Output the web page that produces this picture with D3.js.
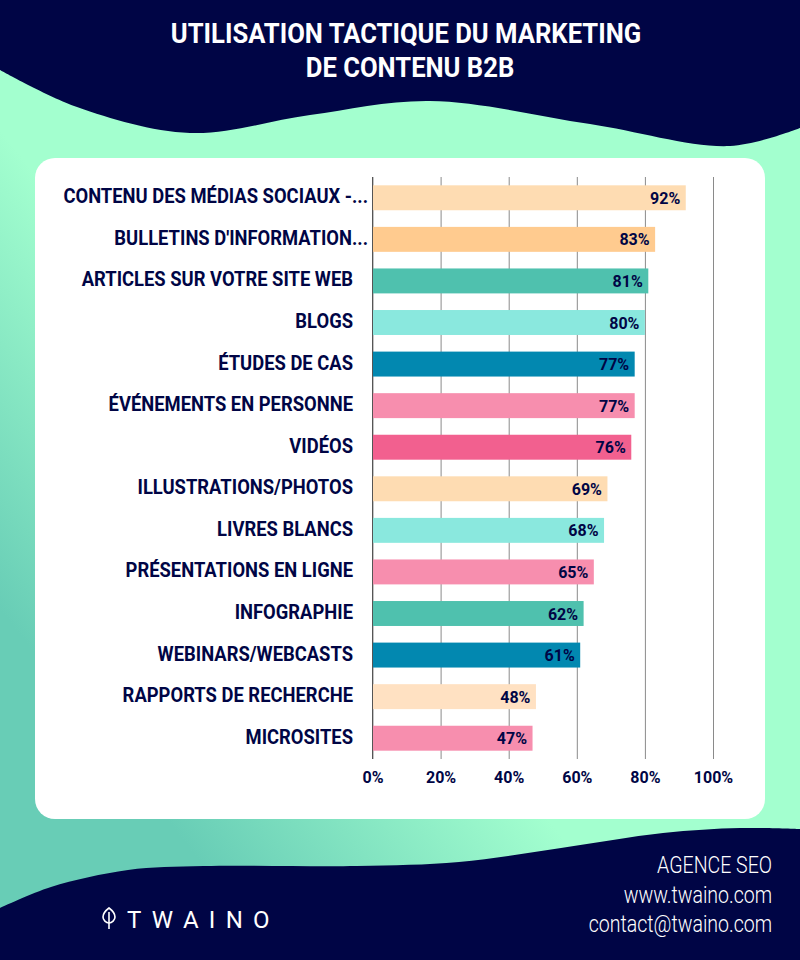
<!DOCTYPE html>
<html>
<head>
<meta charset="utf-8">
<script src="https://cdn.jsdelivr.net/npm/d3@7"></script>
<style>
  html, body { margin: 0; padding: 0; background: #fff; }
  svg { display: block; }
</style>
</head>
<body>
<svg width="800" height="960"></svg>
<script>
var categories = ["CONTENU DES MÉDIAS SOCIAUX -...", "BULLETINS D'INFORMATION...", "ARTICLES SUR VOTRE SITE WEB", "BLOGS", "ÉTUDES DE CAS", "ÉVÉNEMENTS EN PERSONNE", "VIDÉOS", "ILLUSTRATIONS/PHOTOS", "LIVRES BLANCS", "PRÉSENTATIONS EN LIGNE", "INFOGRAPHIE", "WEBINARS/WEBCASTS", "RAPPORTS DE RECHERCHE", "MICROSITES"];
var values = [92, 83, 81, 80, 77, 77, 76, 69, 68, 65, 62, 61, 48, 47];
var barColors = ["#FEDCB2", "#FFCB8F", "#4FC1AE", "#8AE8DE", "#0288B0", "#F78EAE", "#F2608F", "#FEDCB2", "#8AE8DE", "#F78EAE", "#4FC1AE", "#0288B0", "#FFE1C2", "#F78EAE"];
var xTicks = [0, 20, 40, 60, 80, 100];
var titleLines = ["UTILISATION TACTIQUE DU MARKETING", "DE CONTENU B2B"];
var footerLines = ["AGENCE SEO", "www.twaino.com", "contact@twaino.com"];

// decoration, not data
var topWave = [[0,70],[77,107],[190,133],[310,115],[430,101],[590,124],[730,146],[800,128]];
var bottomWave = [[0,908],[51,887],[128,870],[204,866],[357,866],[459,862],[561,848],[663,833],[740,828],[800,829]];

var navy = "#000545";
var font = "Roboto, sans-serif";

var svg = d3.select("svg"),
    width = +svg.attr("width"),
    height = +svg.attr("height");

// no narrow font installed, so squeeze the text sideways
function squeeze(sel, sx, px, py) {
  sel.attr("x", 0).attr("y", 0)
     .attr("transform", function(d, i){ return "translate(" + px(d, i) + "," + py(d, i) + ") scale(" + sx + ",1)" });
}

var grad = svg.append("defs").append("linearGradient")
    .attr("id", "bg").attr("gradientUnits", "userSpaceOnUse")
    .attr("x1", 0).attr("y1", 610).attr("x2", 234).attr("y2", 424);
grad.append("stop").attr("offset", "0%").attr("stop-color", "#68CDB6");
grad.append("stop").attr("offset", "100%").attr("stop-color", "#A3FFCF");

svg.append("rect").attr("width", width).attr("height", height).attr("fill", "url(#bg)");

var wave = d3.line().curve(d3.curveCatmullRom.alpha(0.5));
svg.append("path").attr("fill", navy)
    .attr("d", wave(topWave) + "L800,0L0,0Z");
svg.append("path").attr("fill", navy)
    .attr("d", wave(bottomWave) + "L800,960L0,960Z");

svg.append("rect").attr("x", 35).attr("y", 158).attr("width", 730).attr("height", 661)
    .attr("rx", 20).attr("fill", "#fff");

// title
svg.selectAll(".title").data(titleLines).enter()
  .append("text")
    .attr("text-anchor", "middle")
    .attr("fill", "#fff").attr("font-family", font).attr("font-weight", 700).attr("font-size", 28)
    .text(function(d){ return d })
    .call(squeeze, 0.915, function(d, i){ return i ? 410 : 406 }, function(d, i){ return 43 + i*34 });

var x = d3.scaleLinear().domain([0, 100]).range([372.5, 713]);
var y = d3.scaleBand().domain(categories).range([177, 759]).paddingInner(0.4).paddingOuter(0.2);

// grid + axis
var xAxis = d3.axisBottom(x).tickValues(xTicks).tickFormat(function(d){ return d + "%" }).tickSize(582).tickPadding(13);
var ax = svg.append("g").attr("transform", "translate(0,177)").call(xAxis);
ax.select(".domain").remove();
ax.selectAll("line").attr("stroke", "#8a8a8a").attr("stroke-width", 1);
ax.selectAll("text").attr("fill", navy).attr("font-family", font).attr("font-weight", 700).attr("font-size", 16);

// bars
svg.selectAll(".bar").data(values).enter()
  .append("rect")
    .attr("x", x(0))
    .attr("y", function(d, i){ return y(categories[i]) })
    .attr("width", function(d){ return x(d) - x(0) })
    .attr("height", y.bandwidth())
    .attr("fill", function(d, i){ return barColors[i] });

svg.append("line").attr("x1", x(0)).attr("x2", x(0)).attr("y1", 177).attr("y2", 759)
    .attr("stroke", "#555").attr("stroke-width", 1);

// value labels
svg.selectAll(".val").data(values).enter()
  .append("text")
    .attr("x", function(d){ return x(d) - 5.5 })
    .attr("y", function(d, i){ return y(categories[i]) + y.bandwidth()/2 + 6 })
    .attr("text-anchor", "end")
    .attr("fill", navy).attr("font-family", font).attr("font-weight", 700).attr("font-size", 16)
    .text(function(d){ return d + "%" });

// category labels
svg.selectAll(".cat").data(categories).enter()
  .append("text")
    .attr("text-anchor", "end")
    .attr("fill", navy).attr("font-family", font).attr("font-weight", 700).attr("font-size", 20)
    .text(function(d){ return d })
    .call(squeeze, 0.92,
      function(d){ return d.slice(-3) === "..." ? 368 : 353 },
      function(d){ return y(d) + y.bandwidth()/2 + 5.5 });

// footer
svg.selectAll(".foot").data(footerLines).enter()
  .append("text")
    .attr("text-anchor", "end")
    .attr("fill", "#fff").attr("font-family", font).attr("font-weight", 300).attr("font-size", 23)
    .text(function(d){ return d })
    .call(squeeze, 0.85, function(){ return 772 }, function(d, i){ return 873 + i*29.5 });

svg.append("text").attr("x", 127).attr("y", 928)
    .attr("fill", "#fff").attr("font-family", font).attr("font-weight", 400).attr("font-size", 24).attr("letter-spacing", 10.3)
    .text("TWAINO");
var logo = svg.append("g").attr("fill", "none").attr("stroke", "#fff").attr("stroke-width", 1.6);
logo.append("path").attr("d", "M109,908C113,911 115,914 115,917C115,920 112,923 109,923C106,923 103,920 103,917C103,914 105,911 109,908Z");
logo.append("line").attr("x1", 109).attr("x2", 109).attr("y1", 912).attr("y2", 929);
</script>
</body>
</html>
